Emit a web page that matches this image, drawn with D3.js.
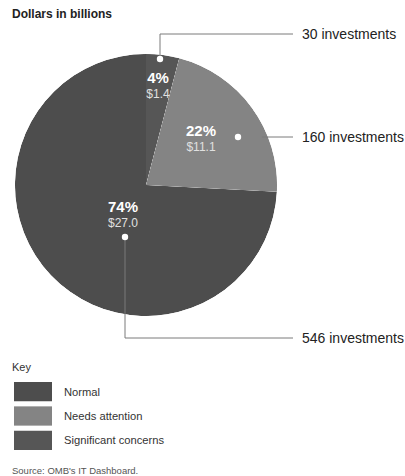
<!DOCTYPE html>
<html>
<head>
<meta charset="utf-8">
<script src="https://cdn.jsdelivr.net/npm/d3@7"></script>
<style>
  body { margin: 0; background: #fff; }
  svg { display: block; font-family: "Liberation Sans", Arial, sans-serif; }
</style>
</head>
<body>
<svg id="chart" width="405" height="476"></svg>
<script>
// Investment status breakdown
const statuses = ["Significant concerns", "Needs attention", "Normal"];
const investments = [30, 160, 546];
const percents = ["4%", "22%", "74%"];
const dollars = [1.4, 11.1, 27.0];
const colors = ["#565656", "#848484", "#4e4e4e"];
const keyOrder = ["Normal", "Needs attention", "Significant concerns"];

const svg = d3.select("#chart");
const cx = 146, cy = 185, R = 131;

// fine print grain on the filled areas
const defs = svg.append("defs");
const f = defs.append("filter").attr("id", "grain")
  .attr("x", 0).attr("y", 0).attr("width", 1).attr("height", 1);
f.append("feTurbulence").attr("type", "fractalNoise").attr("baseFrequency", 3)
  .attr("numOctaves", 1).attr("seed", 7).attr("result", "n");
f.append("feColorMatrix").attr("in", "n").attr("type", "matrix")
  .attr("values", "2.5 0 0 0 -0.75  2.5 0 0 0 -0.75  2.5 0 0 0 -0.75  0 0 0 0 1").attr("result", "g");
f.append("feComposite").attr("in", "SourceGraphic").attr("in2", "g")
  .attr("operator", "arithmetic").attr("k1", 0).attr("k2", 1).attr("k3", 0.22).attr("k4", -0.11)
  .attr("result", "mix");
f.append("feComposite").attr("in", "mix").attr("in2", "SourceAlpha").attr("operator", "in");

svg.append("text").attr("x", 12).attr("y", 18)
  .attr("font-size", 12).attr("font-weight", "bold").attr("fill", "#222")
  .text("Dollars in billions");

const pie = d3.pie().sort(null).value(d => d);
const arcs = pie(investments);
const arc = d3.arc().innerRadius(0).outerRadius(R);

const g = svg.append("g").attr("transform", `translate(${cx},${cy})`);
g.selectAll("path.slice").data(arcs).join("path")
  .attr("class", "slice")
  .attr("d", arc)
  .attr("fill", (d, i) => colors[i])
  .attr("filter", "url(#grain)");

// slice labels (percent + dollars), offsets from pie centre
const labelPos = [[12, -102], [55, -49], [-23, 27]];
arcs.forEach((d, i) => {
  const [lx, ly] = labelPos[i];
  g.append("text").attr("x", lx).attr("y", ly).attr("text-anchor", "middle")
    .attr("font-size", 15).attr("font-weight", "bold").attr("fill", "#fff")
    .text(percents[i]);
  g.append("text").attr("x", lx).attr("y", ly + 15).attr("text-anchor", "middle")
    .attr("font-size", 12).attr("fill", "#e0e0e0")
    .text("$" + d3.format(".1f")(dollars[i]));
});

// callout dots and leader lines
const textX = 302, lineEnd = 293;
const dotPos = [[14, -126], [92, -48], [-21, 52]];
const lineY = [34, null, 338];
const line = d3.line();
arcs.forEach((d, i) => {
  const px = cx + dotPos[i][0], py = cy + dotPos[i][1];
  let pts, ty;
  if (i === 1) {
    const edgeX = cx + Math.sqrt(R * R - (py - cy) * (py - cy));
    pts = [[edgeX - 6, py], [lineEnd, py]];
    ty = py;
  } else {
    pts = [[px, py], [px, lineY[i]], [lineEnd, lineY[i]]];
    ty = lineY[i];
  }
  svg.append("path").attr("d", line(pts)).attr("fill", "none")
    .attr("stroke", "#7a7a7a").attr("stroke-width", 1);
  svg.append("circle").attr("cx", px).attr("cy", py).attr("r", 3.2).attr("fill", "#fff");
  svg.append("text").attr("x", textX).attr("y", ty).attr("dy", "0.35em")
    .attr("font-size", 14).attr("fill", "#222")
    .text(investments[i] + " investments");
});

// key
svg.append("text").attr("x", 12).attr("y", 371).attr("font-size", 11).attr("fill", "#333").text("Key");
const keyY = d3.scaleBand().domain(keyOrder).range([382, 450]).paddingInner(0.2);
keyOrder.forEach(k => {
  const idx = statuses.indexOf(k);
  svg.append("rect").attr("x", 14).attr("y", keyY(k)).attr("width", 38).attr("height", keyY.bandwidth())
    .attr("fill", colors[idx]).attr("filter", "url(#grain)");
  svg.append("text").attr("x", 64).attr("y", keyY(k) + keyY.bandwidth() / 2).attr("dy", "0.35em")
    .attr("font-size", 11.2).attr("fill", "#333").text(k);
});

svg.append("text").attr("x", 12).attr("y", 474).attr("font-size", 9.5).attr("fill", "#555")
  .text("Source: OMB's IT Dashboard.");
</script>
</body>
</html>
